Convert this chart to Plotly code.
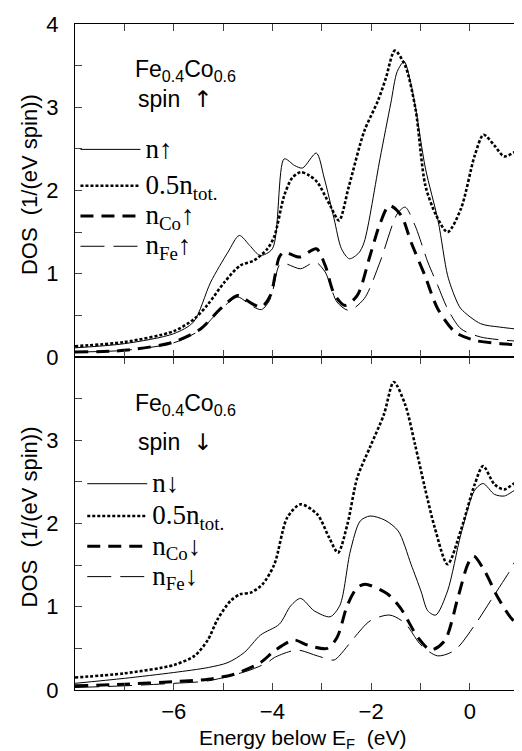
import plotly.graph_objects as go

# ---------------- Top panel: spin up ----------------
up_n_E = [-8, -7, -6, -5.6, -5.25, -4.9, -4.67, -4.46, -4.25, -4.0, -3.76, -3.55, -3.39, -3.11,
          -2.95, -2.75, -2.6, -2.44, -2.25, -2.14, -1.82, -1.6, -1.47, -1.33, -1.2, -1.1, -0.9,
          -0.64, -0.45, -0.3, -0.18, 0.22, 0.6, 1.2]
up_n = [0.11, 0.16, 0.28, 0.42, 0.9, 1.26, 1.46, 1.34, 1.22, 1.3, 2.38, 2.3, 2.27, 2.45,
        2.15, 1.66, 1.3, 1.18, 1.25, 1.38, 2.38, 3.05, 3.43, 3.55, 3.3, 3.0, 2.27,
        1.63, 0.98, 0.72, 0.58, 0.40, 0.36, 0.32]

up_tot_E = [-8, -7, -6, -5.58, -5.31, -4.97, -4.65, -4.37, -4.1, -3.96, -3.76, -3.6, -3.43, -3.25,
            -3.09, -2.83, -2.65, -2.45, -2.14, -1.86, -1.7, -1.52, -1.31, -1.1, -0.9, -0.68,
            -0.45, -0.18, 0.1, 0.28, 0.5, 0.7, 1.0, 1.2]
up_tot = [0.13, 0.18, 0.31, 0.46, 0.63, 0.9, 1.1, 1.16, 1.3, 1.45, 1.94, 2.15, 2.22, 2.18,
          2.1, 1.82, 1.64, 2.05, 2.71, 3.08, 3.35, 3.68, 3.5, 2.98, 2.06, 1.7,
          1.5, 1.78, 2.42, 2.67, 2.54, 2.41, 2.48, 2.43]

up_co_E = [-8, -7, -6, -5.45, -5.05, -4.7, -4.44, -4.22, -4.04, -3.86, -3.76, -3.45, -3.11, -2.93,
           -2.75, -2.53, -2.28, -2.02, -1.82, -1.63, -1.39, -1.19, -0.91, -0.65, -0.3, 0.1, 0.63, 1.2]
up_co = [0.06, 0.08, 0.18, 0.34, 0.58, 0.74, 0.65, 0.6, 0.74, 1.2, 1.26, 1.2, 1.3, 1.1,
         0.76, 0.62, 0.74, 1.22, 1.6, 1.82, 1.7, 1.38, 0.98, 0.58, 0.3, 0.2, 0.16, 0.14]

up_fe_E = [-8, -7, -6, -5.45, -5.05, -4.7, -4.44, -4.22, -4.04, -3.86, -3.74, -3.43, -3.13, -2.93,
           -2.69, -2.45, -2.14, -1.82, -1.47, -1.31, -1.11, -0.85, -0.65, -0.45, -0.18, 0.22, 1.2]
up_fe = [0.06, 0.08, 0.17, 0.33, 0.57, 0.72, 0.62, 0.57, 0.7, 1.1, 1.12, 1.06, 1.14, 1.02,
         0.66, 0.56, 0.7, 1.14, 1.72, 1.8, 1.58, 1.14, 0.86, 0.58, 0.34, 0.24, 0.18]

# ---------------- Bottom panel: spin down ----------------
dn_n_E = [-8, -7, -6, -5.3, -4.9, -4.57, -4.24, -3.86, -3.63, -3.43, -3.15, -2.83, -2.63, -2.42,
          -2.22, -2.02, -1.72, -1.45, -1.19, -0.99, -0.85, -0.69, -0.45, -0.18, 0.1, 0.27, 0.5,
          0.7, 0.97, 1.2]
dn_n = [0.08, 0.14, 0.21, 0.27, 0.33, 0.45, 0.66, 0.79, 1.01, 1.1, 0.95, 0.88, 1.02, 1.67,
        2.03, 2.09, 2.04, 1.91, 1.51, 1.19, 0.95, 0.9, 1.19, 1.87, 2.4, 2.48, 2.35,
        2.33, 2.41, 2.35]

dn_tot_E = [-8, -7, -6, -5.58, -5.31, -5.11, -4.85, -4.65, -4.44, -4.2, -3.96, -3.7, -3.43, -3.09,
            -2.85, -2.67, -2.48, -2.28, -2.02, -1.74, -1.54, -1.31, -1.11, -0.91, -0.71, -0.45,
            -0.18, 0.1, 0.27, 0.5, 0.7, 0.97, 1.2]
dn_tot = [0.15, 0.2, 0.3, 0.41, 0.6, 0.85, 1.07, 1.15, 1.17, 1.27, 1.51, 2.07, 2.23, 2.11,
          1.83, 1.65, 1.99, 2.55, 2.92, 3.31, 3.7, 3.43, 2.95, 2.43, 1.95, 1.51,
          1.92, 2.47, 2.69, 2.47, 2.41, 2.5, 2.43]

dn_co_E = [-8, -7, -6, -5.3, -4.77, -4.24, -3.96, -3.56, -3.29, -2.89, -2.69, -2.48, -2.28, -2.12,
           -1.68, -1.41, -1.05, -0.79, -0.51, -0.24, -0.04, 0.08, 0.3, 0.57, 0.83, 1.2]
dn_co = [0.05, 0.07, 0.1, 0.13, 0.19, 0.33, 0.47, 0.6, 0.54, 0.5, 0.63, 1.02, 1.23, 1.27,
         1.16, 0.99, 0.63, 0.48, 0.59, 1.11, 1.51, 1.61, 1.43, 1.11, 0.87, 0.65]

dn_fe_E = [-8, -7, -6, -5.3, -4.5, -4.1, -3.96, -3.5, -3.09, -2.75, -2.63, -2.34, -2.02, -1.62,
           -1.31, -0.99, -0.65, -0.3, 0.1, 0.42, 0.77, 1.03, 1.2]
dn_fe = [0.03, 0.05, 0.08, 0.11, 0.23, 0.33, 0.39, 0.48, 0.41, 0.36, 0.42, 0.63, 0.83, 0.9,
         0.8, 0.54, 0.41, 0.48, 0.78, 1.07, 1.39, 1.63, 1.61]

up_names = ["n↑", "0.5n<sub>tot.</sub>", "n<sub>Co</sub>↑", "n<sub>Fe</sub>↑"]
dn_names = ["n↓", "0.5n<sub>tot.</sub>", "n<sub>Co</sub>↓", "n<sub>Fe</sub>↓"]
groups = ["g1", "g2", "g2", "g2"]

styles = [
    dict(color="black", width=1.0, dash="solid"),
    dict(color="black", width=2.6, dash="3px,2px"),
    dict(color="black", width=3.0, dash="13px,8px"),
    dict(color="black", width=1.0, dash="24px,9px"),
]

def big(label):
    return '<span style="font-size:27px">' + label + '</span>'

fig = go.Figure()
up_sets = [(up_n_E, up_n), (up_tot_E, up_tot), (up_co_E, up_co), (up_fe_E, up_fe)]
dn_sets = [(dn_n_E, dn_n), (dn_tot_E, dn_tot), (dn_co_E, dn_co), (dn_fe_E, dn_fe)]

for (xs, ys), name, st, g in zip(up_sets, up_names, styles, groups):
    fig.add_trace(go.Scatter(x=xs, y=ys, mode="lines", name=big(name),
                             line=dict(shape="spline", smoothing=0.8, **st),
                             xaxis="x2", yaxis="y2", legend="legend", legendgroup="u" + g))
for (xs, ys), name, st, g in zip(dn_sets, dn_names, styles, groups):
    fig.add_trace(go.Scatter(x=xs, y=ys, mode="lines", name=big(name),
                             line=dict(shape="spline", smoothing=0.8, **st),
                             xaxis="x", yaxis="y", legend="legend2", legendgroup="d" + g))

tickfont = dict(family="Liberation Sans, Arial, sans-serif", size=22, color="black")
common_x = dict(range=[-8, 1.2], tickvals=[-6, -4, -2, 0], ticks="inside", ticklen=7, tickwidth=1,
                minor=dict(ticks="inside", ticklen=7, dtick=1, tick0=0, showgrid=False),
                showline=True, linecolor="black", linewidth=1, mirror="ticks",
                showgrid=False, zeroline=False, tickfont=tickfont)
common_y = dict(range=[0, 4], ticks="inside", ticklen=7, tickwidth=1,
                minor=dict(ticks="inside", ticklen=7, dtick=0.5, tick0=0, showgrid=False),
                showline=True, linecolor="black", linewidth=1, mirror="ticks",
                showgrid=False, zeroline=False, tickfont=tickfont, ticklabelstandoff=11)

legfont = dict(family="Liberation Serif, Times New Roman, serif", size=21, color="black")

fig.update_layout(
    width=522, height=751,
    margin=dict(l=67, r=1, t=16, b=69),
    paper_bgcolor="white", plot_bgcolor="white",
    xaxis=dict(anchor="y", ticklabelstandoff=2, **common_x),
    xaxis2=dict(anchor="y2", matches="x", showticklabels=False, **common_x),
    yaxis=dict(domain=[0, 0.5], anchor="x", tickvals=[0, 1, 2, 3], **common_y),
    yaxis2=dict(domain=[0.5, 1], anchor="x2", tickvals=[0, 1, 2, 3, 4], **common_y),
    legend=dict(x=0.001, y=0.842, xanchor="left", yanchor="top", font=legfont, itemwidth=60,
                bgcolor="rgba(0,0,0,0)", tracegroupgap=6, traceorder="grouped"),
    legend2=dict(x=0.016, y=0.34, xanchor="left", yanchor="top", font=legfont, itemwidth=60,
                 bgcolor="rgba(0,0,0,0)", tracegroupgap=2, traceorder="grouped"),
    showlegend=True,
)

annfont = dict(family="Liberation Sans, Arial, sans-serif", size=23, color="black")
titlefont = dict(family="Liberation Sans, Arial, sans-serif", size=22, color="black")
arrow_up = '<span style="font-family:DejaVu Sans">↑</span>'
arrow_dn = '<span style="font-family:DejaVu Sans">↓</span>'
fig.add_annotation(text="Fe<sub>0.4</sub>Co<sub>0.6</sub>", x=0.243, y=0.93, xref="paper", yref="paper",
                   showarrow=False, font=annfont, xanchor="center", yanchor="middle")
fig.add_annotation(text="spin  " + arrow_up, x=0.22, y=0.888, xref="paper", yref="paper",
                   showarrow=False, font=annfont, xanchor="center", yanchor="middle")
fig.add_annotation(text="Fe<sub>0.4</sub>Co<sub>0.6</sub>", x=0.243, y=0.428, xref="paper", yref="paper",
                   showarrow=False, font=annfont, xanchor="center", yanchor="middle")
fig.add_annotation(text="spin  " + arrow_dn, x=0.22, y=0.373, xref="paper", yref="paper",
                   showarrow=False, font=annfont, xanchor="center", yanchor="middle")
fig.add_annotation(text="DOS  (1/(eV spin))", x=-0.1, y=0.759, xref="paper", yref="paper", textangle=-90,
                   showarrow=False, font=titlefont, xanchor="center", yanchor="middle")
fig.add_annotation(text="DOS  (1/(eV spin))", x=-0.1, y=0.26, xref="paper", yref="paper", textangle=-90,
                   showarrow=False, font=titlefont, xanchor="center", yanchor="middle")
fig.add_annotation(text="Energy below E<sub>F</sub>  (eV)", x=0.5, y=-0.073, xref="paper", yref="paper",
                   showarrow=False, font=dict(family="Liberation Sans, Arial, sans-serif", size=21, color="black"),
                   xanchor="center", yanchor="middle")

fig.write_html("out.html")
